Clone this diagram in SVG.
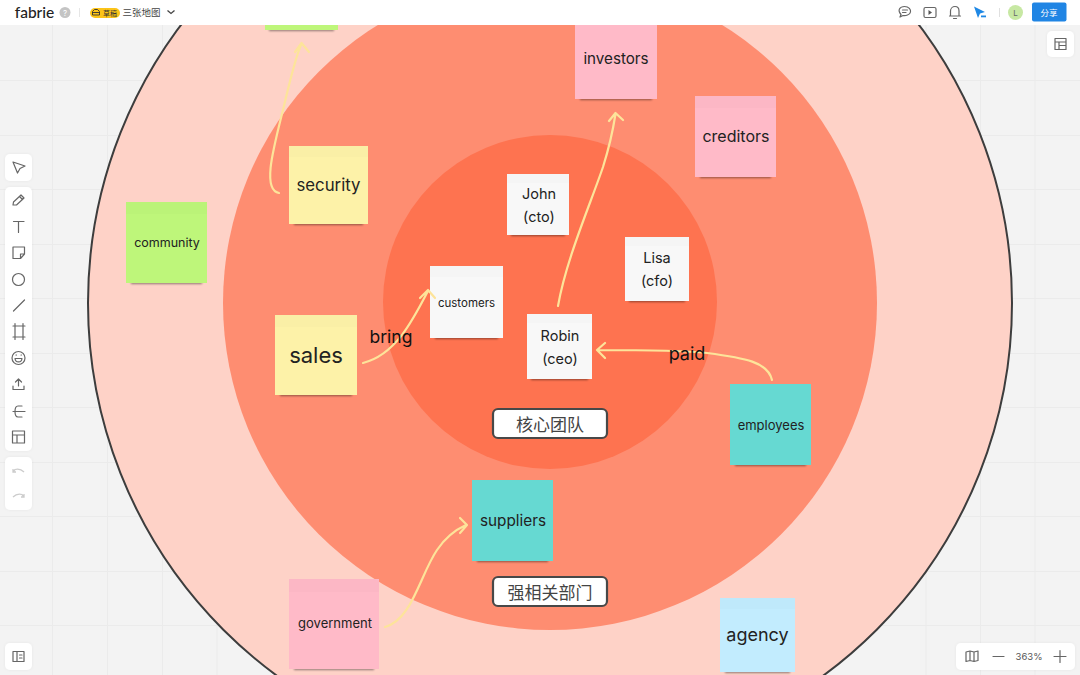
<svg xmlns="http://www.w3.org/2000/svg" width="1080" height="675" viewBox="0 0 1080 675">
<style>
text{font-family:Inter,"Liberation Sans","Noto Sans CJK SC",sans-serif;fill:#222;text-anchor:middle}
.cjk{font-family:"Noto Sans CJK SC",sans-serif;fill:#444}
.grid{stroke:#ebebeb;stroke-width:1}
.conn{fill:none;stroke:#fde49a;stroke-width:2.200;stroke-linecap:round;stroke-linejoin:round}
.sd{fill:#000;opacity:.42;filter:url(#bl)}
.band{fill:#000;opacity:.012}
.tag{fill:#fff;stroke:#484848;stroke-width:2.200}
.panel{fill:#fff}
.ic{fill:none;stroke:#666;stroke-width:1.200;stroke-linecap:round;stroke-linejoin:round}
</style>
<defs>
<filter id="bl" x="-10%" y="-100%" width="120%" height="300%"><feGaussianBlur stdDeviation="1.200"/></filter>
<filter id="ps" x="-30%" y="-30%" width="160%" height="160%"><feDropShadow dx="0" dy="0" stdDeviation="1.500" flood-color="#000" flood-opacity="0.05"/></filter>
</defs>
<rect width="1080" height="675" fill="#f3f3f3"/>
<g id="grid" class="grid">
<path d="M52.500 25V675M107.500 25V675M162.500 25V675M217 25V675M926 25V675M980.500 25V675M1035 25V675M0 80.500H1080M0 135.500H1080M0 189.500H1080M0 244.500H1080M0 298.500H1080M0 353.500H1080M0 407.500H1080M0 462.500H1080M0 516.500H1080M0 571.500H1080M0 625.500H1080"/>
</g>
<g id="rings">
<circle cx="550" cy="303" r="462" fill="#fed2c7" stroke="#3d3d3d" stroke-width="2"/>
<circle cx="550" cy="303" r="327" fill="#fe8d71"/>
<circle cx="550" cy="302" r="167" fill="#fe7350"/>
</g>
<g id="n-top"><rect class="sd" x="269" y="27" width="65" height="4"/><rect x="265" y="10" width="73" height="20" fill="#bef67a"/></g>
<g id="n-investors"><rect class="sd" x="580" y="95" width="72" height="5"/><rect x="575" y="20" width="82" height="79" fill="#ffbac8"/><text x="616" y="64" font-size="15.200">investors</text></g>
<g id="n-creditors"><rect class="sd" x="700" y="173" width="71" height="5"/><rect x="695" y="96" width="81" height="81" fill="#ffbac8"/><rect class="band" x="695" y="96" width="81" height="12"/><text x="736" y="142" font-size="16">creditors</text></g>
<g id="n-security"><rect class="sd" x="294" y="220" width="69" height="5"/><rect x="289" y="146" width="79" height="78" fill="#fdf2a8"/><rect class="band" x="289" y="146" width="79" height="11"/><text x="328.500" y="191" font-size="16.800">security</text></g>
<g id="n-community"><rect class="sd" x="131" y="279" width="71" height="5"/><rect x="126" y="202" width="81" height="81" fill="#bef67a"/><rect class="band" x="126" y="202" width="81" height="12"/><text x="167" y="247" font-size="12.500">community</text></g>
<g id="n-john"><rect class="sd" x="511" y="231" width="54" height="5"/><rect x="507" y="174" width="62" height="61" fill="#f8f8f8"/><rect class="band" x="507" y="174" width="62" height="9"/><text x="539" y="199" font-size="14.500">John</text><text x="539" y="222" font-size="14.500">(cto)</text></g>
<g id="n-lisa"><rect class="sd" x="629" y="297" width="56" height="5"/><rect x="625" y="237" width="64" height="64" fill="#f8f8f8"/><rect class="band" x="625" y="237" width="64" height="9"/><text x="657" y="263" font-size="14.500">Lisa</text><text x="657" y="286" font-size="14.500">(cfo)</text></g>
<g id="n-customers"><rect class="sd" x="435" y="334" width="63" height="5"/><rect x="430" y="266" width="73" height="72" fill="#f8f8f8"/><rect class="band" x="430" y="266" width="73" height="11"/><text x="466.500" y="307" font-size="11.500">customers</text></g>
<g id="n-robin"><rect class="sd" x="531" y="375" width="57" height="5"/><rect x="527" y="314" width="65" height="65" fill="#f8f8f8"/><rect class="band" x="527" y="314" width="65" height="9"/><text x="560" y="341" font-size="14.500">Robin</text><text x="560" y="364" font-size="14.500">(ceo)</text></g>
<g id="n-sales"><rect class="sd" x="280" y="391" width="72" height="5"/><rect x="275" y="315" width="82" height="80" fill="#fdf2a8"/><rect class="band" x="275" y="315" width="82" height="12"/><text x="316" y="363" font-size="22">sales</text></g>
<g id="n-employees"><rect class="sd" x="735" y="461" width="71" height="5"/><rect x="730" y="384" width="81" height="81" fill="#66d9d2"/><text x="771" y="430" font-size="13">employees</text></g>
<g id="n-suppliers"><rect class="sd" x="477" y="557" width="71" height="5"/><rect x="472" y="480" width="81" height="81" fill="#66d9d2"/><text x="513" y="526" font-size="15.300">suppliers</text></g>
<g id="n-government"><rect class="sd" x="294" y="665" width="80" height="5"/><rect x="289" y="579" width="90" height="90" fill="#ffbac8"/><rect class="band" x="289" y="579" width="90" height="13"/><text x="335" y="628" font-size="13">government</text></g>
<g id="n-agency"><rect class="sd" x="725" y="668" width="65" height="5"/><rect x="720" y="598" width="75" height="74" fill="#c2ecfe"/><rect class="band" x="720" y="598" width="75" height="11"/><text x="757.500" y="641" font-size="18">agency</text></g>
<g id="connectors">
<path class="conn" d="M279 193C262 190 273 150 283 110C290 80 296 55 301.500 44M295 52L301.500 43L309 52"/>
<path class="conn" d="M558 306C566 260 590 205 603 167C609 148 613 130 615.500 114M609 121L615.500 113L623 120"/>
<path class="conn" d="M363 363C395 355 412 322 428 291M420 298L428 290L435 298"/>
<path class="conn" d="M772 380C768 362 745 358 707 353C680 350 640 350 598 350M605 343L597 350L605 358"/>
<path class="conn" d="M385 627C412 620 420 575 437 550C445 538 455 530 466 525M460 518L467 525L460 533"/>
</g>
<g id="labels">
<text x="391" y="343" font-size="17.500" style="fill:#111">bring</text>
<text x="687" y="360" font-size="18" style="fill:#111">paid</text>
</g>
<g id="tag-core"><rect class="tag" x="493" y="409" width="114" height="29" rx="5"/><text class="cjk" x="550" y="431" font-size="17">核心团队</text></g>
<g id="tag-related"><rect class="tag" x="493" y="577" width="114" height="29" rx="5"/><text class="cjk" x="550" y="599" font-size="17">强相关部门</text></g>
<g id="topbar">
<rect width="1080" height="25" fill="#fff"/>
<text x="34.500" y="18" font-size="15.500" font-weight="500" style="font-family:Lato,'Liberation Sans',sans-serif">fabrie</text>
<circle cx="65" cy="12.500" r="5.500" fill="#c4c4c4"/><text x="65" y="15.500" font-size="8" style="fill:#fff">?</text>
<line x1="79.500" y1="8" x2="79.500" y2="17" stroke="#e6e6e6"/>
<rect x="90" y="8" width="30" height="10" rx="5" fill="#fcc419"/>
<path d="M92.500 15V11.500L94.500 9.500H97.500L99.500 11.500V15ZM92.500 12.500H99.500" fill="none" stroke="#333" stroke-width="0.900"/>
<text class="cjk" x="110" y="15.500" font-size="7" style="fill:#333">草稿</text>
<text class="cjk" x="141.500" y="16" font-size="9.500">三张地图</text>
<path d="M167.500 10.500L171 13.500L174.500 10.500" fill="none" stroke="#444" stroke-width="1.300"/>
<path class="ic" d="M900 17L901 14.500C897 10 900 6.500 904.500 6.500C909 6.500 911 9.500 910.500 12C910 15 905.500 16 903 15.500ZM902.500 10H907.500M902.500 12.500H906"/>
<rect class="ic" x="924" y="7.500" width="12" height="10" rx="1.500"/><path d="M928.500 10L932 12.500L928.500 15Z" fill="#555"/>
<path class="ic" d="M950.500 16V11C950.500 8.500 952.500 6.500 955 6.500C957.500 6.500 959 8.500 959 11V16ZM949.500 16H960.500M953.500 18.500H956.500"/>
<path d="M974 6.500L985 12L980 13.500L978 18Z" fill="#1f88e5"/><rect x="981" y="15.500" width="5" height="1.800" fill="#1f88e5"/>
<line x1="999.500" y1="8" x2="999.500" y2="17" stroke="#e0e0e0"/>
<circle cx="1015.500" cy="12.500" r="7.500" fill="#c7e8a3"/><text x="1015.500" y="15.500" font-size="8" style="fill:#666">L</text>
<rect x="1032" y="2.500" width="34.500" height="19" rx="2" fill="#2085e4"/><text class="cjk" x="1049" y="15.500" font-size="8.500" style="fill:#fff">分享</text>
</g>
<g id="toolbar">
<rect class="panel" x="1047" y="31" width="27" height="26" rx="5" filter="url(#ps)"/>
<path class="ic" d="M1055 38.500H1066V49.500H1055ZM1055 42H1066M1059 42V49.500M1059 45.500H1066"/>
<rect class="panel" x="5" y="154" width="27" height="27" rx="5" filter="url(#ps)"/>
<path class="ic" d="M13 162L25 166L20 168.500L17.500 173Z"/>
<rect class="panel" x="5" y="187" width="27" height="264" rx="5" filter="url(#ps)"/>
<path class="ic" d="M13 205L13.500 202L21 195L24 198L16.500 205ZM19.500 196.500L22.500 199.500"/>
<path class="ic" d="M13.500 221.500H24M18.500 221.500V232.500"/>
<path class="ic" d="M13 247H24.500V254L20.500 258.500H13ZM24.500 254H20.500V258.500"/>
<circle class="ic" cx="18.500" cy="279.500" r="6"/>
<path class="ic" d="M13.500 311L24.500 300"/>
<path class="ic" d="M13 326H25M13 337H25M15 323.500V339.500M23 323.500V339.500"/>
<circle class="ic" cx="18.500" cy="358" r="6.500"/><path class="ic" d="M15 358.500H22C21.500 363 15.500 363 15 358.500ZM16 355H16.500M21 355H21.500"/>
<path class="ic" d="M13 386V389.500H24V386M18.500 386V379M15.500 382L18.500 379L21.500 382"/>
<path class="ic" d="M22 406H18C14 406 14 417 18 417H22M13 411.500H25M21 411.500H25"/>
<path class="ic" d="M12.500 431H24.500V443H12.500ZM12.500 435H24.500M17 435V443"/>
<rect class="panel" x="5" y="457" width="27" height="53" rx="5" filter="url(#ps)"/>
<path d="M13 472L15 469.500C18 468.500 21 469 24 472M13 469V472H16" fill="none" stroke="#ccc" stroke-width="1.300"/>
<path d="M24 497L22 494.500C19 493.500 16 494 13 497M24 494V497H21" fill="none" stroke="#ccc" stroke-width="1.300"/>
<rect class="panel" x="5" y="643" width="27" height="27" rx="5" filter="url(#ps)"/>
<path class="ic" d="M13 651.500H24V661.500H13ZM17 651.500V661.500M19.500 655H22M19.500 658H22"/>
<rect class="panel" x="956" y="643" width="119" height="27" rx="5" filter="url(#ps)"/>
<path class="ic" d="M966 652L970 651L974 652L978 651V660.500L974 661.500L970 660.500L966 661.500ZM970 651V660.500M974 652V661.500"/>
<path class="ic" d="M993 656.500H1004"/>
<text x="1029" y="660" font-size="9.500" style="fill:#555">363%</text>
<path class="ic" d="M1054 656.500H1066M1060 650.500V662.500"/>
</g>
</svg>
